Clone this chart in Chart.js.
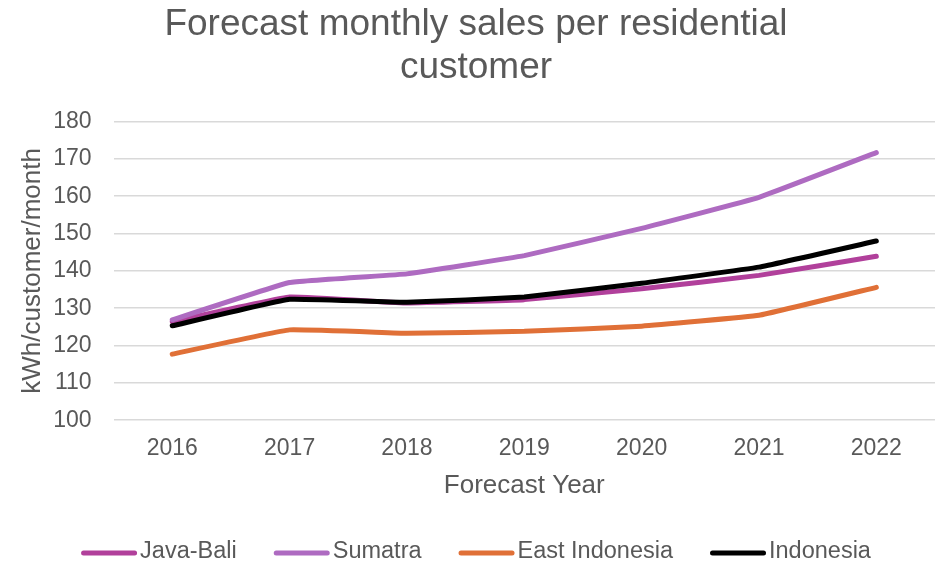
<!DOCTYPE html>
<html>
<head>
<meta charset="utf-8">
<script src="https://cdn.jsdelivr.net/npm/chart.js@4/dist/chart.umd.min.js"></script>
<style>
  html, body { margin: 0; padding: 0; background: #fff; }
  #wrap { width: 941px; height: 563px; }
</style>
</head>
<body>
<div id="wrap"><canvas id="salesChart" width="941" height="563"></canvas></div>
<script>
// forecast years and kWh per residential customer per month
const years = ['2016', '2017', '2018', '2019', '2020', '2021', '2022'];
const javaBali = [126.4, 133.0, 131.4, 132.3, 135.2, 138.8, 143.9];
const sumatra = [126.9, 136.9, 139.2, 144.1, 151.4, 159.7, 171.7];
const eastIndonesia = [117.7, 124.2, 123.3, 123.8, 125.2, 128.1, 135.6];
const indonesia = [125.3, 132.4, 131.6, 133.0, 136.7, 141.0, 148.0];
const yTicks = [100, 110, 120, 130, 140, 150, 160, 170, 180];

const textColor = '#595959';
const fontFamily = '"Liberation Sans", Arial, sans-serif';

function series(label, data, color, order) {
    return {
        label: label,
        data: data,
        borderColor: color,
        backgroundColor: color,
        borderWidth: 5,
        borderCapStyle: 'round',
        borderJoinStyle: 'round',
        pointRadius: 0,
        pointHoverRadius: 0,
        tension: 0.08,
        fill: false,
        order: order
    };
}

// bottom legend: long round-capped line sample, text right next to it
const lineLegend = {
    id: 'lineLegend',
    afterDraw(chart, args, opts) {
        const c = chart.ctx;
        const items = chart.data.datasets;
        c.save();
        c.font = opts.fontSize + 'px ' + fontFamily;
        const widths = items.map(d => opts.sample + opts.gap + c.measureText(d.label).width);
        const total = widths.reduce((a, b) => a + b, 0) + opts.spacing * (items.length - 1);
        let x = opts.centerX - total / 2;
        const y = opts.y;
        items.forEach((d, i) => {
            c.strokeStyle = d.borderColor;
            c.lineWidth = 5;
            c.lineCap = 'round';
            c.beginPath();
            c.moveTo(x + 2.5, y + 1);
            c.lineTo(x + opts.sample - 2.5, y + 1);
            c.stroke();
            c.fillStyle = textColor;
            c.textBaseline = 'middle';
            c.textAlign = 'left';
            c.fillText(d.label, x + opts.sample + opts.gap, y);
            x += widths[i] + opts.spacing;
        });
        c.restore();
    }
};

const ctx = document.getElementById('salesChart').getContext('2d');
new Chart(ctx, {
    type: 'line',
    data: {
        labels: years,
        datasets: [
            series('Java-Bali', javaBali, '#B1409B', 4),
            series('Sumatra', sumatra, '#AE6BC1', 3),
            series('East Indonesia', eastIndonesia, '#E07037', 2),
            series('Indonesia', indonesia, '#000000', 1)
        ]
    },
    plugins: [lineLegend],
    options: {
        responsive: false,
        animation: false,
        layout: { padding: { left: 17, right: 6, top: 0, bottom: 62 } },
        plugins: {
            title: {
                display: true,
                text: ['Forecast monthly sales per residential', 'customer'],
                color: textColor,
                font: { family: fontFamily, size: 37, weight: 'normal', lineHeight: 1.17 },
                padding: { top: 3, bottom: 32 }
            },
            legend: { display: false },
            lineLegend: { fontSize: 23.5, sample: 56, gap: 3, spacing: 37, centerX: 476, y: 552 },
            tooltip: { enabled: false }
        },
        scales: {
            x: {
                offset: true,
                afterFit: axis => { axis.height -= 17; },
                grid: { display: false, drawTicks: false },
                border: { display: false },
                ticks: { color: textColor, font: { family: fontFamily, size: 23 }, padding: 15 },
                title: {
                    display: true,
                    text: 'Forecast Year',
                    color: textColor,
                    font: { family: fontFamily, size: 26 },
                    padding: { top: 9, bottom: 0 }
                }
            },
            y: {
                min: 100,
                max: 180,
                afterBuildTicks: axis => { axis.ticks = yTicks.map(v => ({ value: v })); },
                afterFit: axis => { axis.width -= 21; },
                grid: { color: '#D9D9D9', lineWidth: 1.5, drawTicks: false },
                border: { display: false },
                ticks: { color: textColor, font: { family: fontFamily, size: 23 }, padding: 22 },
                title: {
                    display: true,
                    text: 'kWh/customer/month',
                    color: textColor,
                    font: { family: fontFamily, size: 26 },
                    padding: { top: 0, bottom: 4 }
                }
            }
        }
    }
});
</script>
</body>
</html>
